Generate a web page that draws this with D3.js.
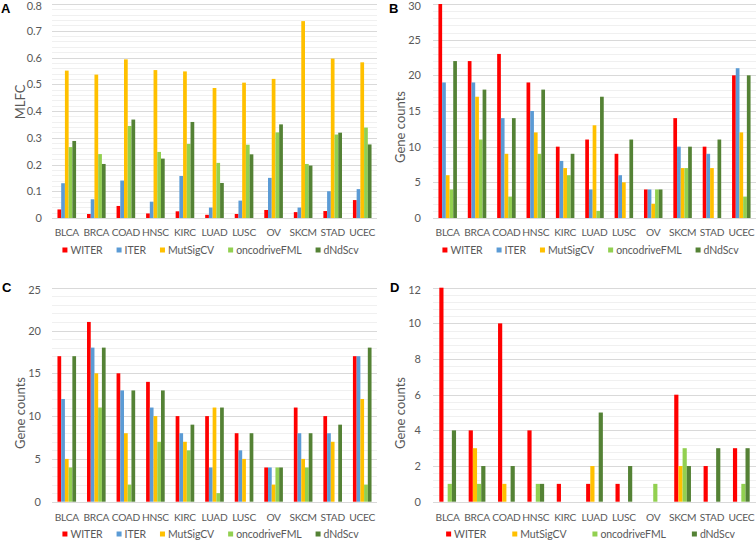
<!DOCTYPE html>
<html><head><meta charset="utf-8">
<script src="https://cdn.jsdelivr.net/npm/d3@7"></script>
<style>
body{margin:0;background:#fff;}
svg{display:block;font-family:Lato,"Open Sans",sans-serif;}
</style></head>
<body><svg id="c" width="756" height="542"></svg>
<script>
const categories = ["BLCA","BRCA","COAD","HNSC","KIRC","LUAD","LUSC","OV","SKCM","STAD","UCEC"];
const seriesAll = ["WITER","ITER","MutSigCV","oncodriveFML","dNdScv"];
const seriesD = ["WITER","MutSigCV","oncodriveFML","dNdScv"];
const colors = {WITER:"#FF0000",ITER:"#5B9BD5",MutSigCV:"#FFC000",oncodriveFML:"#92D050",dNdScv:"#548235"};

// Panel A: MLFC
const A_WITER = [0.032,0.015,0.045,0.017,0.025,0.012,0.015,0.030,0.022,0.026,0.067];
const A_ITER = [0.130,0.070,0.140,0.061,0.157,0.039,0.065,0.150,0.039,0.100,0.108];
const A_MutSigCV = [0.551,0.536,0.593,0.553,0.548,0.486,0.506,0.520,0.736,0.596,0.582];
const A_oncodriveFML = [0.265,0.239,0.344,0.247,0.277,0.206,0.274,0.320,0.202,0.312,0.338];
const A_dNdScv = [0.288,0.202,0.368,0.222,0.359,0.131,0.238,0.350,0.196,0.319,0.275];
const A_ticks = [0,0.1,0.2,0.3,0.4,0.5,0.6,0.7,0.8];

// Panel B: Gene counts
const B_WITER = [30,22,23,19,10,11,9,4,14,10,20];
const B_ITER = [19,19,14,15,8,4,6,4,10,9,21];
const B_MutSigCV = [6,17,9,12,7,13,5,2,7,7,12];
const B_oncodriveFML = [4,11,3,9,6,1,0,4,7,0,3];
const B_dNdScv = [22,18,14,18,9,17,11,4,10,11,20];
const B_ticks = [0,5,10,15,20,25,30];

// Panel C: Gene counts
const C_WITER = [17,21,15,14,10,10,8,4,11,10,17];
const C_ITER = [12,18,13,11,8,4,6,4,8,8,17];
const C_MutSigCV = [5,15,8,10,7,11,5,2,5,7,12];
const C_oncodriveFML = [4,11,2,7,6,1,0,4,4,0,2];
const C_dNdScv = [17,18,13,13,9,11,8,4,8,9,18];
const C_ticks = [0,5,10,15,20,25];

// Panel D: Gene counts
const D_WITER = [12,4,10,4,1,1,1,0,6,2,3];
const D_MutSigCV = [0,3,1,0,0,2,0,0,2,0,0];
const D_oncodriveFML = [1,1,0,1,0,0,0,1,3,0,1];
const D_dNdScv = [4,2,2,1,0,5,2,0,2,3,3];
const D_ticks = [0,2,4,6,8,10,12];

const svg = d3.select("#c");

function drawPanel(o){
  const g = svg.append("g");
  const x = d3.scaleBand().domain(categories).range([o.x0, o.x1]);
  const y = d3.scaleLinear().domain([o.ticks[0], o.ticks[o.ticks.length-1]]).range([o.y0, o.y1]);
  const step = o.ticks[1]-o.ticks[0];
  const minorStep = step/5;
  const minor = d3.range(0, o.ticks.length-1).flatMap(i => [1,2,3,4].map(k => o.ticks[i]+k*minorStep));
  g.append("g").selectAll("line").data(minor).join("line")
    .attr("x1", o.x0).attr("x2", o.x1)
    .attr("y1", d=>Math.round(y(d))+0.5).attr("y2", d=>Math.round(y(d))+0.5)
    .attr("stroke","#F0F0F0").attr("stroke-width",1);
  g.append("g").selectAll("line").data(o.ticks).join("line")
    .attr("x1", o.x0).attr("x2", o.x1)
    .attr("y1", d=>Math.round(y(d))+0.5).attr("y2", d=>Math.round(y(d))+0.5)
    .attr("stroke","#D9D9D9").attr("stroke-width",1);
  const ya = d3.axisLeft(y).tickValues(o.ticks).tickSize(0).tickPadding(0).tickFormat(o.fmt);
  const yg = g.append("g").attr("transform",`translate(${o.labelX},0)`).call(ya);
  yg.select(".domain").remove();
  yg.selectAll("text").attr("fill","#595959").attr("dy", (d,i)=> i===o.ticks.length-1 ? "0.5em" : "0.32em")
    .style("font-size","11px").style("font-family","Lato");
  const inner = d3.scaleBand().domain(o.series).range([0, x.bandwidth()*o.groupFrac]);
  const off = (x.bandwidth() - inner.range()[1])/2;
  const rows = categories.map((c,i)=>({c, vals:o.series.map((s)=>({s, v:o.data[s][i]}))}));
  g.append("g").selectAll("g").data(rows).join("g")
    .attr("transform", d=>`translate(${x(d.c)+off},0)`)
    .selectAll("rect").data(d=>d.vals.filter(v=>v.v>0)).join("rect")
    .attr("x", d=>inner(d.s)).attr("width", inner.bandwidth())
    .attr("y", d=>y(d.v)).attr("height", d=>y(0)-y(d.v))
    .attr("fill", d=>colors[d.s]);
  const xa = d3.axisBottom(x).tickSize(0).tickPadding(0);
  const xg = g.append("g").attr("transform",`translate(0,${o.catY})`).call(xa);
  xg.select(".domain").remove();
  xg.selectAll("text").attr("fill","#595959").attr("dy","0.35em")
    .style("font-size","10.2px").style("letter-spacing","-0.25px").style("font-family","Lato");
  g.append("text").attr("transform",`translate(${o.titleX},${o.titleY}) rotate(-90)`)
    .attr("text-anchor","middle").attr("dy","0.35em").attr("fill","#595959")
    .style("font-size","13px").text(o.title);
  g.append("text").attr("x",o.letterX).attr("y",o.letterY).attr("fill","#000")
    .style("font-family","'Liberation Sans',Arial,sans-serif").style("font-weight","bold").style("font-size","13px").text(o.letter);
  const lg = g.append("g").attr("transform",`translate(0,${o.legY})`);
  const items = lg.selectAll("g").data(o.series).join("g");
  items.append("rect").attr("width",5).attr("height",5).attr("y",-2.5).attr("fill",d=>colors[d]);
  items.append("text").attr("x",8).attr("dy","0.35em").attr("fill","#595959")
    .style("font-size","10.5px").style("letter-spacing","-0.1px").text(d=>d);
  let cx = 0; const pos=[];
  items.each(function(d){ pos.push(cx); cx += 8 + this.querySelector("text").getComputedTextLength() + o.legGap; });
  const total = cx - o.legGap;
  const start = (o.x0+o.x1)/2 - 4 - total/2;
  items.attr("transform",(d,i)=>`translate(${start+pos[i]},0)`);
}

drawPanel({letter:"A", letterX:1, letterY:13, x0:52, x1:377, y0:218, y1:4, ticks:A_ticks, fmt:d3.format(".1~f"),
  labelX:42, title:"MLFC", titleX:20, titleY:102, catY:232, legY:250, legGap:14, groupFrac:0.63,
  series:seriesAll, data:{WITER:A_WITER,ITER:A_ITER,MutSigCV:A_MutSigCV,oncodriveFML:A_oncodriveFML,dNdScv:A_dNdScv}});
drawPanel({letter:"B", letterX:389, letterY:13, x0:433, x1:756, y0:218, y1:4, ticks:B_ticks, fmt:d3.format("d"),
  labelX:421, title:"Gene counts", titleX:400, titleY:127, catY:232, legY:250, legGap:14, groupFrac:0.63,
  series:seriesAll, data:{WITER:B_WITER,ITER:B_ITER,MutSigCV:B_MutSigCV,oncodriveFML:B_oncodriveFML,dNdScv:B_dNdScv}});
drawPanel({letter:"C", letterX:2, letterY:292, x0:52, x1:377, y0:501.7, y1:287.7, ticks:C_ticks, fmt:d3.format("d"),
  labelX:41, title:"Gene counts", titleX:20, titleY:413, catY:517, legY:534, legGap:14, groupFrac:0.63,
  series:seriesAll, data:{WITER:C_WITER,ITER:C_ITER,MutSigCV:C_MutSigCV,oncodriveFML:C_oncodriveFML,dNdScv:C_dNdScv}});
drawPanel({letter:"D", letterX:390, letterY:292, x0:433, x1:756, y0:501.7, y1:287.7, ticks:D_ticks, fmt:d3.format("d"),
  labelX:421, title:"Gene counts", titleX:400, titleY:413, catY:517, legY:534, legGap:26, groupFrac:0.57,
  series:seriesD, data:{WITER:D_WITER,MutSigCV:D_MutSigCV,oncodriveFML:D_oncodriveFML,dNdScv:D_dNdScv}});
</script></body></html>
